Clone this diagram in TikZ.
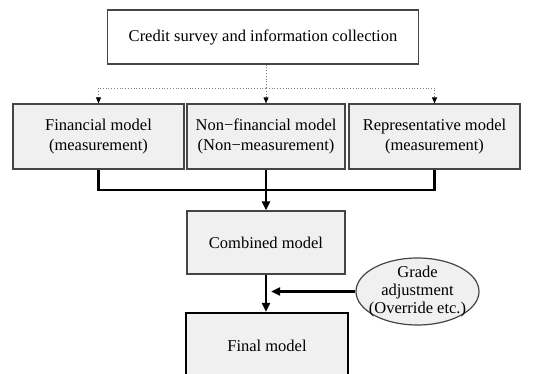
\documentclass[tikz,border=0pt]{standalone}
\usepackage{fontspec}
\setmainfont{Liberation Serif}
\usetikzlibrary{arrows.meta,shapes.geometric,calc}
\definecolor{boxgray}{HTML}{F0F0F0}
\definecolor{edgegray}{HTML}{454545}
\tikzset{
  modelbox/.style={draw=edgegray,line width=1.2pt,fill=boxgray,align=center,inner sep=0pt,
    font=\fontsize{16.5}{20}\selectfont},
  topbox/.style={modelbox,fill=white},
  finalbox/.style={modelbox,draw=black,line width=2.4pt},
  gradeell/.style={ellipse,draw=edgegray,line width=1.2pt,fill=boxgray,inner sep=0pt},
  gradetext/.style={align=center,inner sep=0pt,font=\fontsize{16.5}{18}\selectfont},
  dotline/.style={draw=gray,dotted,line width=0.8pt},
  dotarrow/.style={dotline,-{Triangle[length=6pt,width=5pt,fill=black,color=black]}},
  thickline/.style={draw=black,line width=2.6pt},
  thickarrow/.style={thickline,-{Triangle[length=9pt,width=8pt]}}
}
\begin{document}
\begin{tikzpicture}[x=1pt,y=-1pt]
\useasboundingbox (0,0) rectangle (536,374);
\node[topbox,minimum width=311pt,minimum height=54pt] (top) at (263,37) {Credit survey and information collection};
\node[modelbox,minimum width=171pt,minimum height=65pt] (fin) at (98.5,136.5) {Financial model\\(measurement)};
\node[modelbox,minimum width=158pt,minimum height=65pt] (non) at (266,136.5) {Non−financial model\\(Non−measurement)};
\node[modelbox,minimum width=171pt,minimum height=65pt] (rep) at (434.5,136.5) {Representative model\\(measurement)};
\node[modelbox,minimum width=158pt,minimum height=63pt] (comb) at (266,242.5) {Combined model};
\node[finalbox,minimum width=162pt,minimum height=66pt] (final) at (267,346) {Final model};
\node[gradeell,minimum width=123pt,minimum height=67pt] (grade) at (417.5,291.5) {};
\node[gradetext] (gradet) at (grade.center) {Grade\\adjustment\\(Override etc.)};
% dotted distribution
\coordinate (j) at (266,88);
\draw[dotline] (j |- top.south) -- (j);
\draw[dotarrow] (j) -| (fin.north);
\draw[dotarrow] (j) -| (rep.north);
\draw[dotarrow] (j) -- (non.north);
% thick join
\coordinate (k) at (266,190);
\draw[thickline] (fin.south) |- (k);
\draw[thickline] (rep.south) |- (k);
\draw[thickarrow] (non.south) -- (comb.north);
\draw[thickarrow] (comb.south) -- (comb.south |- final.north);
\coordinate (g) at ($(comb.south |- grade.west)+(5,0)$);
\draw[thickarrow] (grade.west) -- (g);
\end{tikzpicture}
\end{document}
